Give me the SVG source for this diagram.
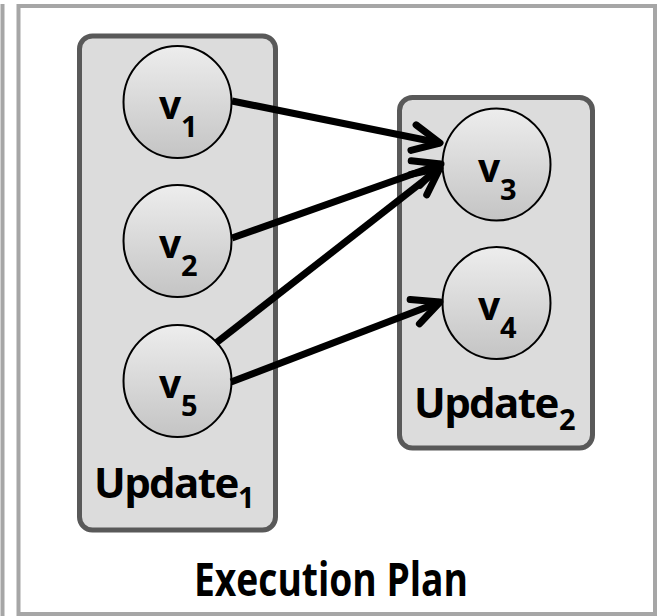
<svg xmlns="http://www.w3.org/2000/svg" width="662" height="616" viewBox="0 0 662 616">
  <defs>
    <linearGradient id="nodeFill" x1="0" y1="0" x2="0" y2="1">
      <stop offset="0" stop-color="#ededed"/>
      <stop offset="1" stop-color="#c4c4c4"/>
    </linearGradient>
    <marker id="chevron" markerUnits="userSpaceOnUse" markerWidth="60" markerHeight="60" viewBox="-40 -30 60 60" refX="0" refY="0" orient="auto" overflow="visible">
      <path d="M-27,-13 L0,0 L-27,13" fill="none" stroke="#000" stroke-width="7" stroke-linecap="round" stroke-linejoin="round"/>
    </marker>
    <style>
      .frame { fill: none; stroke: #a6a6a6; stroke-width: 4; }
      .group { fill: #dcdcdc; stroke: #595959; stroke-width: 5; }
      .node { fill: url(#nodeFill); stroke: #000; stroke-width: 2; }
      .edge { fill: none; stroke: #000; stroke-width: 7; marker-end: url(#chevron); }
      .lbl { font-family: "Open Sans", "Noto Sans", sans-serif; font-weight: bold; fill: #000; }
      .v { font-size: 39px; }
      .sub { font-size: 29px; letter-spacing: 0; }
      .big { font-size: 42px; letter-spacing: -1.6px; }
      .title { font-size: 46px; }
    </style>
  </defs>

  <!-- panel frame -->
  <line class="frame" x1="2.5" y1="4" x2="2.5" y2="616"/>
  <rect class="frame" x="18.5" y="6" width="636.5" height="608"/>

  <!-- update groups -->
  <g id="update1">
    <rect class="group" x="79.5" y="36" width="196" height="494" rx="13"/>
    <text class="lbl big" x="94" y="498">Update<tspan class="sub" x="238" y="508">1</tspan></text>
  </g>
  <g id="update2">
    <rect class="group" x="399.5" y="97.5" width="193" height="350.5" rx="13"/>
    <text class="lbl big" x="414" y="418">Update<tspan class="sub" x="559" y="430">2</tspan></text>
  </g>

  <!-- vertices -->
  <g id="v1">
    <ellipse class="node" cx="177.5" cy="102" rx="54" ry="56"/>
    <text class="lbl v" x="159" y="119">v<tspan class="sub" x="181" y="137">1</tspan></text>
  </g>
  <g id="v2">
    <ellipse class="node" cx="177.5" cy="241" rx="54" ry="56"/>
    <text class="lbl v" x="159" y="258">v<tspan class="sub" x="181" y="276">2</tspan></text>
  </g>
  <g id="v5">
    <ellipse class="node" cx="177.5" cy="381" rx="54" ry="56"/>
    <text class="lbl v" x="159" y="398">v<tspan class="sub" x="181" y="416">5</tspan></text>
  </g>
  <g id="v3">
    <ellipse class="node" cx="496.5" cy="164.5" rx="54" ry="56"/>
    <text class="lbl v" x="478" y="181.5">v<tspan class="sub" x="500" y="199.5">3</tspan></text>
  </g>
  <g id="v4">
    <ellipse class="node" cx="496.5" cy="303" rx="54" ry="56"/>
    <text class="lbl v" x="478" y="320">v<tspan class="sub" x="500" y="338">4</tspan></text>
  </g>

  <!-- dependencies -->
  <g id="edges">
    <line class="edge" x1="232" y1="101" x2="440" y2="143"/>
    <line class="edge" x1="232" y1="238" x2="441" y2="164"/>
    <line class="edge" x1="216" y1="343" x2="440" y2="168"/>
    <line class="edge" x1="231" y1="382" x2="440" y2="302"/>
  </g>

  <text class="lbl title" x="331" y="596" text-anchor="middle" textLength="274" lengthAdjust="spacingAndGlyphs">Execution Plan</text>
</svg>
